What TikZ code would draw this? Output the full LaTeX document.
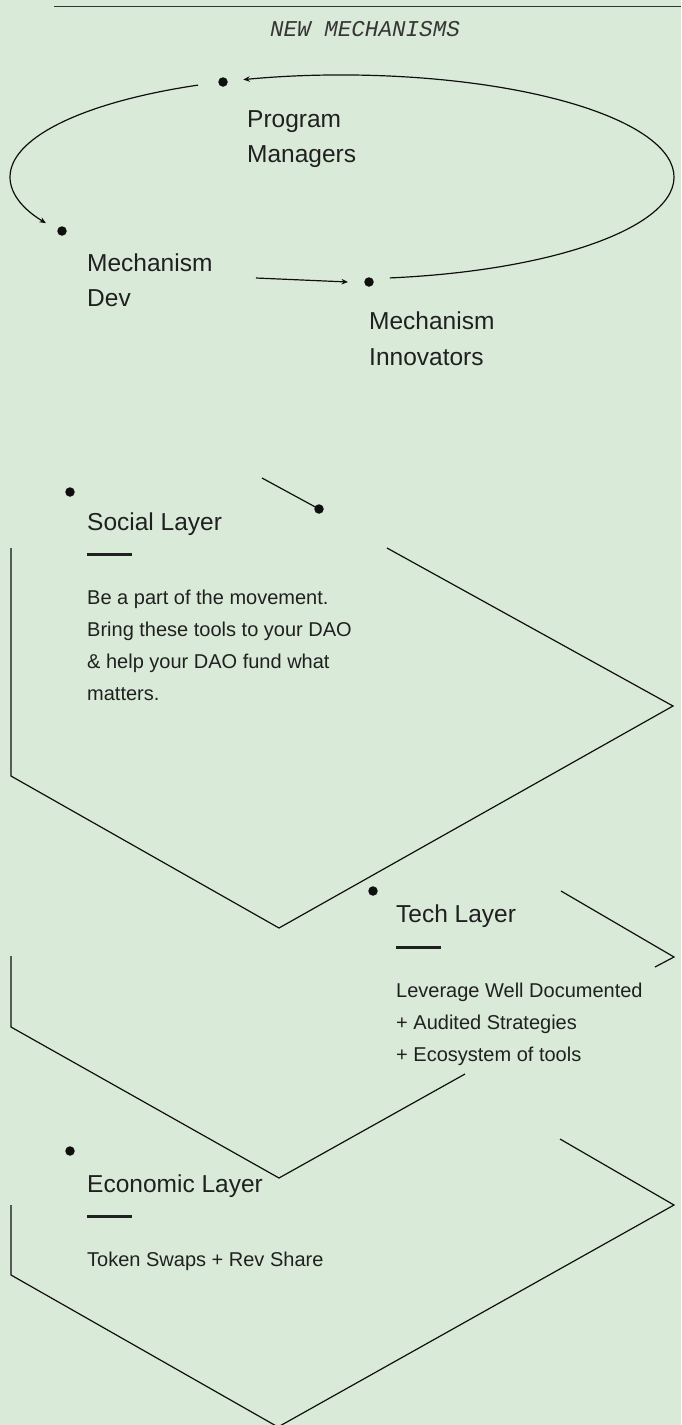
\documentclass[tikz,border=0pt]{standalone}
\usepackage{fontspec}
\setmainfont{Liberation Sans}
\newfontfamily\monofont{Liberation Mono}
\usetikzlibrary{arrows.meta,calc}
\definecolor{bg}{RGB}{218,234,216}
\definecolor{ink}{RGB}{15,15,15}
\definecolor{txt}{RGB}{32,32,32}
\begin{document}
\begin{tikzpicture}[x=1pt,y=-1pt,
  ln/.style={draw=ink,line width=1.2pt},
  arr/.style={ln,-{Stealth[length=6.5pt,width=5.5pt]}},
  dotn/.style={circle,fill=ink,inner sep=0pt,minimum size=9.5pt},
  head/.style={anchor=base west,inner sep=0pt,text=txt,font=\fontsize{24.5}{30}\selectfont},
  body/.style={anchor=base west,inner sep=0pt,text=txt,font=\fontsize{20}{24}\selectfont},
  bar/.style={draw=txt,line width=3pt},
]
\fill[bg] (0,0) rectangle (681,1425);
\useasboundingbox (0,0) rectangle (681,1425);

% top rule and title
\coordinate (rl) at (54,6);
\coordinate (rr) at (681,6);
\draw[draw=ink!85!white,line width=1pt] (rl) -- (rr);
\node[text=txt!90!white,font=\monofont\itshape\fontsize{22.6}{26}\selectfont] (title) at (365,29) {NEW MECHANISMS};

% cycle diagram
\coordinate (c) at (342,177);
\node[dotn] (pmdot) at (223,82) {};
\node[dotn] (mddot) at (62,231) {};
\node[dotn] (midot) at (369,282) {};
\node[head] (pm1) at (247,127) {Program};
\node[head] (pm2) at (247,162) {Managers};
\node[head] (md1) at (87,271) {Mechanism};
\node[head] (md2) at (87,306) {Dev};
\node[head] (mi1) at (369,329) {Mechanism};
\node[head] (mi2) at (369,365) {Innovators};

\draw[arr] ($(c)+(81.7:332 and 102)$) arc[start angle=81.7,end angle=-107.3,x radius=332,y radius=102];
\draw[arr] ($(c)+(-115.7:332 and 102)$) arc[start angle=-115.7,end angle=-206.9,x radius=332,y radius=102];
\coordinate (mds) at (256,278);
\coordinate (mie) at (348,282);
\draw[arr] (mds) -- (mie);

% social layer
\node[dotn] (sdot) at (70,492) {};
\node[dotn] (sgdot) at (319,509) {};
\coordinate (sg0) at (262,478);
\draw[ln] (sg0) -- (sgdot.center);
\coordinate (s1) at (387,548);
\coordinate (s2) at (673,706);
\coordinate (s3) at (279,928);
\coordinate (s4) at (11,776);
\coordinate (s5) at (11,548);
\draw[ln] (s1) -- (s2) -- (s3) -- (s4) -- (s5);
\node[head] (sh) at (87,530) {Social Layer};
\coordinate (sb1) at (87,554);
\coordinate (sb2) at (132,554);
\draw[bar] (sb1) -- (sb2);
\node[body] (sl1) at (87,604) {Be a part of the movement.};
\node[body] (sl2) at (87,636) {Bring these tools to your DAO};
\node[body] (sl3) at (87,668) {\& help your DAO fund what};
\node[body] (sl4) at (87,700) {matters.};

% tech layer
\node[dotn] (tdot) at (373,891) {};
\coordinate (t1) at (561,891);
\coordinate (t2) at (674,957);
\coordinate (t3) at (655,967);
\draw[ln] (t1) -- (t2) -- (t3);
\coordinate (t4) at (465,1074);
\coordinate (t5) at (279,1178);
\coordinate (t6) at (11,1027);
\coordinate (t7) at (11,956);
\draw[ln] (t4) -- (t5) -- (t6) -- (t7);
\node[head] (th) at (396,922) {Tech Layer};
\coordinate (tb1) at (396,947);
\coordinate (tb2) at (441,947);
\draw[bar] (tb1) -- (tb2);
\node[body] (tl1) at (396,997) {Leverage Well Documented};
\node[body] (tl2) at (396,1029) {+ Audited Strategies};
\node[body] (tl3) at (396,1061) {+ Ecosystem of tools};

% economic layer
\node[dotn] (edot) at (70,1151) {};
\coordinate (e1) at (560,1139);
\coordinate (e2) at (674,1205);
\coordinate (e3) at (278,1427);
\coordinate (e4) at (11,1275);
\coordinate (e5) at (11,1205);
\draw[ln] (e1) -- (e2) -- (e3) -- (e4) -- (e5);
\node[head] (eh) at (87,1192) {Economic Layer};
\coordinate (eb1) at (87,1216);
\coordinate (eb2) at (132,1216);
\draw[bar] (eb1) -- (eb2);
\node[body] (el1) at (87,1266) {Token Swaps + Rev Share};
\end{tikzpicture}
\end{document}
